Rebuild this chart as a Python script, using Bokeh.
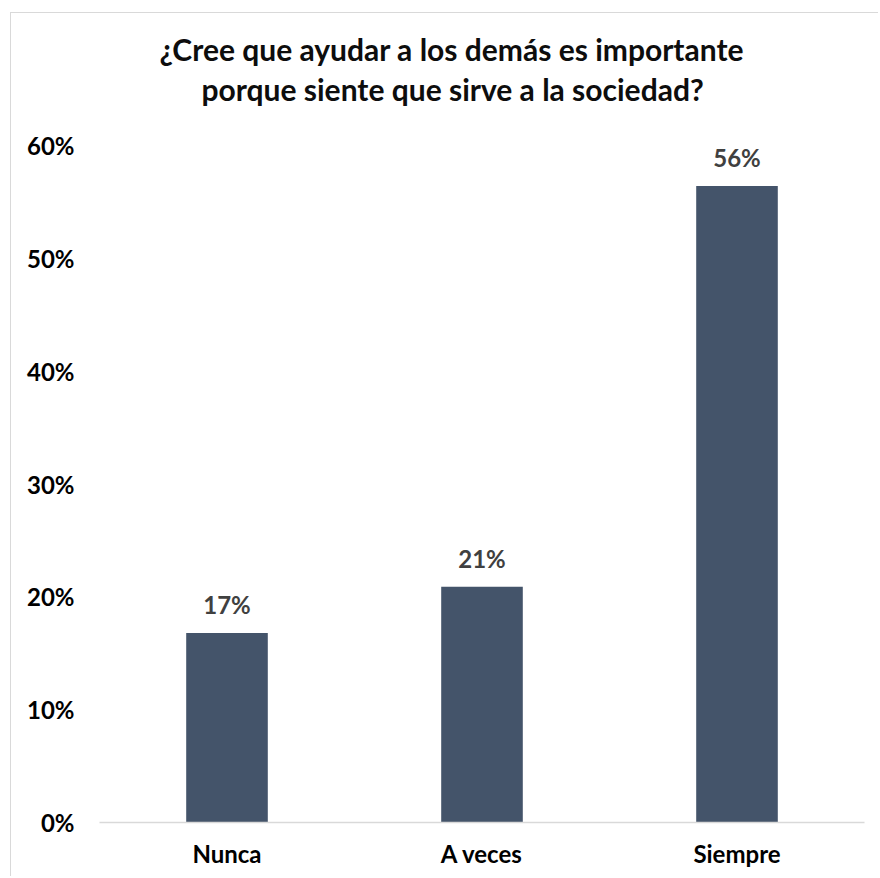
from bokeh.plotting import figure
from bokeh.models import ColumnDataSource, FixedTicker, NumeralTickFormatter, Range1d, Title
from bokeh.embed import file_html
from bokeh.resources import INLINE
from bokeh.core.properties import value

categories = ["Nunca", "A veces", "Siempre"]
values = [0.168, 0.209, 0.564]
labels = ["17%", "21%", "56%"]
y_ticks = [0, 0.1, 0.2, 0.3, 0.4, 0.5, 0.6]
title_lines = ["¿Cree que ayudar a los demás es importante",
               "porque siente que sirve a la sociedad?"]

FONT = "Lato"
BAR = "#44546A"

src = ColumnDataSource(dict(cat=categories, val=values, lab=labels))

p = figure(
    x_range=categories,
    y_range=Range1d(0, 0.6),
    width=868, height=864,
    output_backend="svg", toolbar_location=None,
    min_border_left=88, min_border_right=15,
    min_border_bottom=55, min_border_top=132,
)
p.margin = (12, 0, 0, 10)
p.styles = {"border-top": "1px solid #d9d9d9", "border-left": "1px solid #d9d9d9"}

p.vbar(x="cat", top="val", width=0.32, source=src, color=BAR, line_color=None)
p.text(x="cat", y="val", text="lab", source=src,
       text_font=value(FONT), text_font_style="bold", text_font_size="24px",
       text_color="#404040", text_align="center", text_baseline="bottom", y_offset=-14)

# spacer between plot and title block, then the two title lines (stacked upwards)
spacer = Title(text=" ", text_font_size="1px", standoff=36)
t2 = Title(text=title_lines[1], align="left",
           text_font=FONT, text_font_size="30px", text_font_style="bold",
           text_color="#0d0d0d", offset=102, standoff=0)
t1 = Title(text=title_lines[0], align="left",
           text_font=FONT, text_font_size="30px", text_font_style="bold",
           text_color="#0d0d0d", offset=60, standoff=4)
p.add_layout(spacer, "above")
p.add_layout(t2, "above")
p.add_layout(t1, "above")

p.xgrid.grid_line_color = None
p.ygrid.grid_line_color = None
p.outline_line_color = None

p.yaxis.ticker = FixedTicker(ticks=y_ticks)
p.yaxis.formatter = NumeralTickFormatter(format="0%")
p.yaxis.axis_line_color = None
p.yaxis.major_tick_line_color = None
p.yaxis.major_tick_out = 0
p.yaxis.major_tick_in = 0
p.yaxis.minor_tick_line_color = None
p.yaxis.major_label_standoff = 25
p.yaxis.major_label_text_font = FONT
p.yaxis.major_label_text_font_style = "bold"
p.yaxis.major_label_text_font_size = "24px"
p.yaxis.major_label_text_color = "#000000"

p.xaxis.axis_line_color = "#d9d9d9"
p.xaxis.axis_line_width = 1.5
p.xaxis.major_tick_line_color = None
p.xaxis.major_tick_out = 0
p.xaxis.major_tick_in = 0
p.xaxis.minor_tick_line_color = None
p.xaxis.major_label_standoff = 16
p.xaxis.major_label_text_font = FONT
p.xaxis.major_label_text_font_style = "bold"
p.xaxis.major_label_text_font_size = "24px"
p.xaxis.major_label_text_color = "#000000"

p.x_range.range_padding = 0.0

open("out.html", "w").write(file_html(p, INLINE))
